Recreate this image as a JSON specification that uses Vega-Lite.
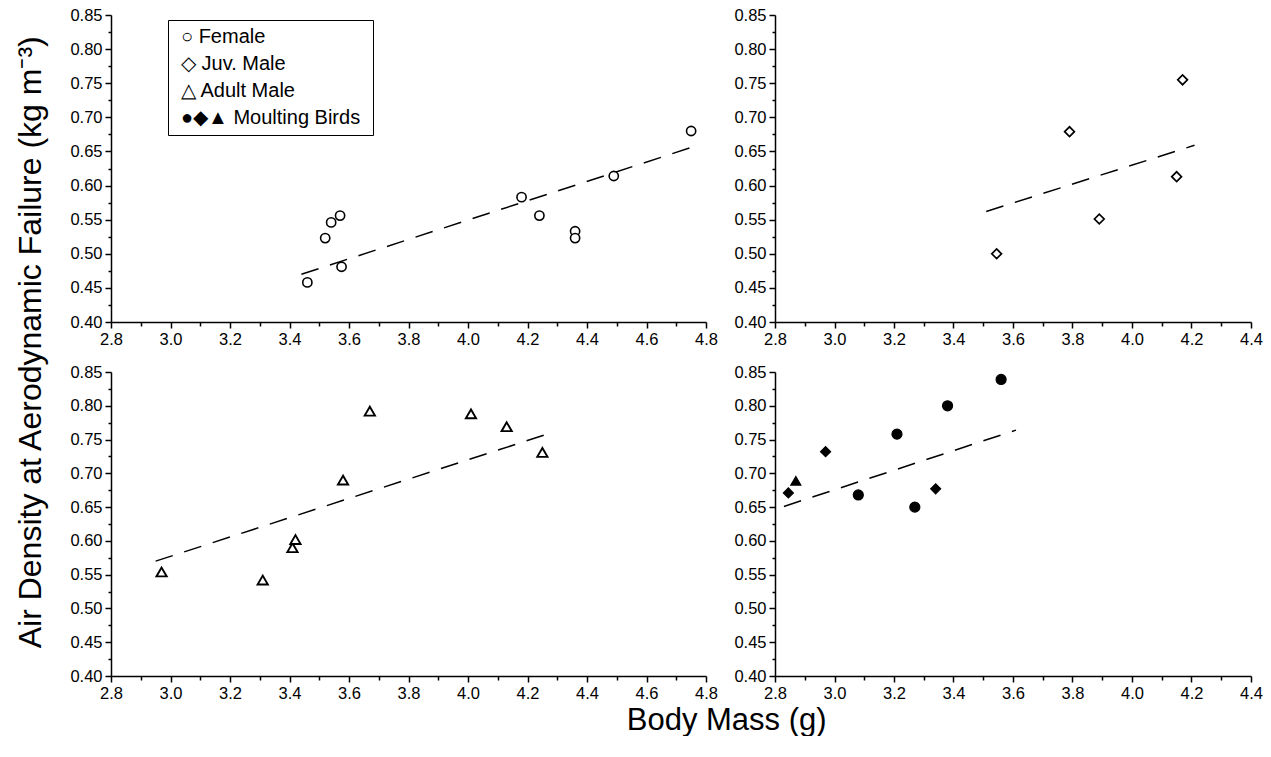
{
  "$schema": "https://vega.github.io/schema/vega-lite/v6.json",
  "padding": {"left": 14, "top": 7, "right": 0, "bottom": 0},
  "background": "white",
  "config": {
    "font": "Liberation Sans",
    "view": {"stroke": null},
    "axis": {
      "grid": false,
      "domainColor": "black",
      "domainWidth": 1.5,
      "tickColor": "black",
      "tickWidth": 1.5,
      "labelColor": "black",
      "labelFontSize": 16.5,
      "labelFont": "Liberation Sans",
      "labelPadding": 3,
      "labelOverlap": false,
      "labelFlush": false,
      "labelBound": false
    }
  },
  "datasets": {
    "points": [
      {"panel": "A", "mass": 3.46, "density": 0.458, "group": "Female", "legend": "Female"},
      {"panel": "A", "mass": 3.52, "density": 0.523, "group": "Female", "legend": "Female"},
      {"panel": "A", "mass": 3.54, "density": 0.546, "group": "Female", "legend": "Female"},
      {"panel": "A", "mass": 3.57, "density": 0.556, "group": "Female", "legend": "Female"},
      {"panel": "A", "mass": 3.575, "density": 0.481, "group": "Female", "legend": "Female"},
      {"panel": "A", "mass": 4.18, "density": 0.583, "group": "Female", "legend": "Female"},
      {"panel": "A", "mass": 4.24, "density": 0.556, "group": "Female", "legend": "Female"},
      {"panel": "A", "mass": 4.36, "density": 0.533, "group": "Female", "legend": "Female"},
      {"panel": "A", "mass": 4.36, "density": 0.523, "group": "Female", "legend": "Female"},
      {"panel": "A", "mass": 4.49, "density": 0.614, "group": "Female", "legend": "Female"},
      {"panel": "A", "mass": 4.75, "density": 0.680, "group": "Female", "legend": "Female"},
      {"panel": "B", "mass": 3.545, "density": 0.500, "group": "Juv. Male", "legend": "Juv. Male"},
      {"panel": "B", "mass": 3.79, "density": 0.679, "group": "Juv. Male", "legend": "Juv. Male"},
      {"panel": "B", "mass": 3.89, "density": 0.551, "group": "Juv. Male", "legend": "Juv. Male"},
      {"panel": "B", "mass": 4.15, "density": 0.613, "group": "Juv. Male", "legend": "Juv. Male"},
      {"panel": "B", "mass": 4.17, "density": 0.755, "group": "Juv. Male", "legend": "Juv. Male"},
      {"panel": "C", "mass": 2.97, "density": 0.554, "group": "Adult Male", "legend": "Adult Male"},
      {"panel": "C", "mass": 3.31, "density": 0.542, "group": "Adult Male", "legend": "Adult Male"},
      {"panel": "C", "mass": 3.41, "density": 0.590, "group": "Adult Male", "legend": "Adult Male"},
      {"panel": "C", "mass": 3.42, "density": 0.602, "group": "Adult Male", "legend": "Adult Male"},
      {"panel": "C", "mass": 3.58, "density": 0.690, "group": "Adult Male", "legend": "Adult Male"},
      {"panel": "C", "mass": 3.67, "density": 0.792, "group": "Adult Male", "legend": "Adult Male"},
      {"panel": "C", "mass": 4.01, "density": 0.788, "group": "Adult Male", "legend": "Adult Male"},
      {"panel": "C", "mass": 4.13, "density": 0.769, "group": "Adult Male", "legend": "Adult Male"},
      {"panel": "C", "mass": 4.25, "density": 0.731, "group": "Adult Male", "legend": "Adult Male"},
      {"panel": "D", "mass": 2.845, "density": 0.671, "group": "Juv. Male", "legend": "Moulting Birds"},
      {"panel": "D", "mass": 2.87, "density": 0.689, "group": "Adult Male", "legend": "Moulting Birds"},
      {"panel": "D", "mass": 2.97, "density": 0.732, "group": "Juv. Male", "legend": "Moulting Birds"},
      {"panel": "D", "mass": 3.08, "density": 0.668, "group": "Female", "legend": "Moulting Birds"},
      {"panel": "D", "mass": 3.21, "density": 0.758, "group": "Female", "legend": "Moulting Birds"},
      {"panel": "D", "mass": 3.27, "density": 0.650, "group": "Female", "legend": "Moulting Birds"},
      {"panel": "D", "mass": 3.34, "density": 0.677, "group": "Juv. Male", "legend": "Moulting Birds"},
      {"panel": "D", "mass": 3.38, "density": 0.800, "group": "Female", "legend": "Moulting Birds"},
      {"panel": "D", "mass": 3.56, "density": 0.839, "group": "Female", "legend": "Moulting Birds"}
    ],
    "fits": [
      {"panel": "A", "mass": 3.44, "density": 0.470},
      {"panel": "A", "mass": 4.78, "density": 0.660},
      {"panel": "B", "mass": 3.51, "density": 0.562},
      {"panel": "B", "mass": 4.21, "density": 0.659},
      {"panel": "C", "mass": 2.95, "density": 0.570},
      {"panel": "C", "mass": 4.28, "density": 0.760},
      {"panel": "D", "mass": 2.83, "density": 0.651},
      {"panel": "D", "mass": 3.61, "density": 0.764}
    ]
  },
  "title": {
    "text": "Body Mass (g)",
    "orient": "bottom",
    "anchor": "middle",
    "fontSize": 31,
    "fontWeight": "normal",
    "font": "Liberation Sans",
    "color": "black",
    "offset": 4,
    "dx": 88
  },
  "vconcat": [
    {
      "title": {
        "text": "Air Density at Aerodynamic Failure (kg m⁻³)",
        "orient": "left",
        "anchor": "middle",
        "fontSize": 32,
        "fontWeight": "normal",
        "font": "Liberation Sans",
        "color": "black",
        "offset": 22,
        "dx": 12
      },
      "columns": 2,
      "spacing": {"row": 16, "column": 15},
      "resolve": {"scale": {"x": "independent", "y": "independent", "fill": "independent", "shape": "independent"}},
      "concat": [
        {
          "width": 595,
          "height": 307,
          "encoding": {
            "x": {"field": "mass", "type": "quantitative", "scale": {"domain": [2.8, 4.8], "nice": false, "zero": false},
              "axis": {"title": null, "labelOverlap": false, "values": [2.8, 2.9, 3.0, 3.1, 3.2, 3.3, 3.4, 3.5, 3.6, 3.7, 3.8, 3.9, 4.0, 4.1, 4.2, 4.3, 4.4, 4.5, 4.6, 4.7, 4.8],
                "labelExpr": "round(datum.value*10) % 2 == 0 ? format(datum.value, '.1f') : ''",
                "tickSize": {"condition": {"test": "round(datum.value*10) % 2 == 0", "value": 6}, "value": 4}}},
            "y": {"field": "density", "type": "quantitative", "scale": {"domain": [0.4, 0.85], "nice": false, "zero": false},
              "axis": {"title": null, "labelOverlap": false, "values": [0.4, 0.425, 0.45, 0.475, 0.5, 0.525, 0.55, 0.575, 0.6, 0.625, 0.65, 0.675, 0.7, 0.725, 0.75, 0.775, 0.8, 0.825, 0.85],
                "labelExpr": "round(datum.value*1000) % 50 == 0 ? format(datum.value, '.2f') : ''",
                "tickSize": {"condition": {"test": "round(datum.value*1000) % 50 == 0", "value": 6}, "value": 3}}}
          },
          "layer": [
            {
              "data": {"name": "fits"},
              "transform": [{"filter": "datum.panel == 'A'"}],
              "mark": {"type": "line", "color": "black", "strokeWidth": 1.5, "strokeDash": [18, 12]}
            },
            {
              "data": {"name": "points"},
              "transform": [{"filter": "datum.panel == 'A'"}],
              "mark": {"type": "point", "filled": true, "size": 85, "stroke": "black", "strokeWidth": 1.6, "opacity": 1},
              "encoding": {
                "shape": {"field": "group", "type": "nominal", "scale": {"domain": ["Female", "Juv. Male", "Adult Male"], "range": ["circle", "diamond", "triangle-up"]}, "legend": null},
                "fill": {"field": "legend", "type": "nominal",
                  "scale": {"domain": ["Female", "Juv. Male", "Adult Male", "Moulting Birds"], "range": ["white", "white", "white", "black"]},
                  "legend": {
                    "orient": "none", "legendX": 57, "legendY": 5, "title": null,
                    "strokeColor": "black", "fillColor": "white", "padding": 7, "rowPadding": 7,
                    "labelFontSize": 20, "labelFont": "Liberation Sans", "labelColor": "black", "labelLimit": 400,
                    "symbolOpacity": 0, "symbolSize": 0, "symbolStrokeWidth": 0, "labelOffset": -14,
                    "labelExpr": "datum.label == 'Female' ? '○  Female' : datum.label == 'Juv. Male' ? '◇  Juv. Male' : datum.label == 'Adult Male' ? '△  Adult Male' : '●◆▲  Moulting Birds'"
                  }}
              }
            }
          ]
        },
        {
          "width": 476,
          "height": 307,
          "encoding": {
            "x": {"field": "mass", "type": "quantitative", "scale": {"domain": [2.8, 4.4], "nice": false, "zero": false},
              "axis": {"title": null, "labelOverlap": false, "values": [2.8, 2.9, 3.0, 3.1, 3.2, 3.3, 3.4, 3.5, 3.6, 3.7, 3.8, 3.9, 4.0, 4.1, 4.2, 4.3, 4.4],
                "labelExpr": "round(datum.value*10) % 2 == 0 ? format(datum.value, '.1f') : ''",
                "tickSize": {"condition": {"test": "round(datum.value*10) % 2 == 0", "value": 6}, "value": 4}}},
            "y": {"field": "density", "type": "quantitative", "scale": {"domain": [0.4, 0.85], "nice": false, "zero": false},
              "axis": {"title": null, "labelOverlap": false, "values": [0.4, 0.425, 0.45, 0.475, 0.5, 0.525, 0.55, 0.575, 0.6, 0.625, 0.65, 0.675, 0.7, 0.725, 0.75, 0.775, 0.8, 0.825, 0.85],
                "labelExpr": "round(datum.value*1000) % 50 == 0 ? format(datum.value, '.2f') : ''",
                "tickSize": {"condition": {"test": "round(datum.value*1000) % 50 == 0", "value": 6}, "value": 3}}}
          },
          "layer": [
            {
              "data": {"name": "fits"},
              "transform": [{"filter": "datum.panel == 'B'"}],
              "mark": {"type": "line", "color": "black", "strokeWidth": 1.5, "strokeDash": [18, 12]}
            },
            {
              "data": {"name": "points"},
              "transform": [{"filter": "datum.panel == 'B'"}],
              "mark": {"type": "point", "filled": true, "size": 95, "stroke": "black", "strokeWidth": 1.7, "opacity": 1},
              "encoding": {
                "shape": {"field": "group", "type": "nominal", "scale": {"domain": ["Female", "Juv. Male", "Adult Male"], "range": ["circle", "diamond", "triangle-up"]}, "legend": null},
                "fill": {"field": "legend", "type": "nominal", "scale": {"domain": ["Female", "Juv. Male", "Adult Male", "Moulting Birds"], "range": ["white", "white", "white", "black"]}, "legend": null}
              }
            }
          ]
        },
        {
          "width": 595,
          "height": 304,
          "encoding": {
            "x": {"field": "mass", "type": "quantitative", "scale": {"domain": [2.8, 4.8], "nice": false, "zero": false},
              "axis": {"title": null, "labelOverlap": false, "values": [2.8, 2.9, 3.0, 3.1, 3.2, 3.3, 3.4, 3.5, 3.6, 3.7, 3.8, 3.9, 4.0, 4.1, 4.2, 4.3, 4.4, 4.5, 4.6, 4.7, 4.8],
                "labelExpr": "round(datum.value*10) % 2 == 0 ? format(datum.value, '.1f') : ''",
                "tickSize": {"condition": {"test": "round(datum.value*10) % 2 == 0", "value": 6}, "value": 4}}},
            "y": {"field": "density", "type": "quantitative", "scale": {"domain": [0.4, 0.85], "nice": false, "zero": false},
              "axis": {"title": null, "labelOverlap": false, "values": [0.4, 0.425, 0.45, 0.475, 0.5, 0.525, 0.55, 0.575, 0.6, 0.625, 0.65, 0.675, 0.7, 0.725, 0.75, 0.775, 0.8, 0.825, 0.85],
                "labelExpr": "round(datum.value*1000) % 50 == 0 ? format(datum.value, '.2f') : ''",
                "tickSize": {"condition": {"test": "round(datum.value*1000) % 50 == 0", "value": 6}, "value": 3}}}
          },
          "layer": [
            {
              "data": {"name": "fits"},
              "transform": [{"filter": "datum.panel == 'C'"}],
              "mark": {"type": "line", "color": "black", "strokeWidth": 1.5, "strokeDash": [18, 12]}
            },
            {
              "data": {"name": "points"},
              "transform": [{"filter": "datum.panel == 'C'"}],
              "mark": {"type": "point", "filled": true, "size": 105, "stroke": "black", "strokeWidth": 1.9, "opacity": 1},
              "encoding": {
                "shape": {"field": "group", "type": "nominal", "scale": {"domain": ["Female", "Juv. Male", "Adult Male"], "range": ["circle", "diamond", "triangle-up"]}, "legend": null},
                "fill": {"field": "legend", "type": "nominal", "scale": {"domain": ["Female", "Juv. Male", "Adult Male", "Moulting Birds"], "range": ["white", "white", "white", "black"]}, "legend": null}
              }
            }
          ]
        },
        {
          "width": 476,
          "height": 304,
          "encoding": {
            "x": {"field": "mass", "type": "quantitative", "scale": {"domain": [2.8, 4.4], "nice": false, "zero": false},
              "axis": {"title": null, "labelOverlap": false, "values": [2.8, 2.9, 3.0, 3.1, 3.2, 3.3, 3.4, 3.5, 3.6, 3.7, 3.8, 3.9, 4.0, 4.1, 4.2, 4.3, 4.4],
                "labelExpr": "round(datum.value*10) % 2 == 0 ? format(datum.value, '.1f') : ''",
                "tickSize": {"condition": {"test": "round(datum.value*10) % 2 == 0", "value": 6}, "value": 4}}},
            "y": {"field": "density", "type": "quantitative", "scale": {"domain": [0.4, 0.85], "nice": false, "zero": false},
              "axis": {"title": null, "labelOverlap": false, "values": [0.4, 0.425, 0.45, 0.475, 0.5, 0.525, 0.55, 0.575, 0.6, 0.625, 0.65, 0.675, 0.7, 0.725, 0.75, 0.775, 0.8, 0.825, 0.85],
                "labelExpr": "round(datum.value*1000) % 50 == 0 ? format(datum.value, '.2f') : ''",
                "tickSize": {"condition": {"test": "round(datum.value*1000) % 50 == 0", "value": 6}, "value": 3}}}
          },
          "layer": [
            {
              "data": {"name": "fits"},
              "transform": [{"filter": "datum.panel == 'D'"}],
              "mark": {"type": "line", "color": "black", "strokeWidth": 1.5, "strokeDash": [18, 12]}
            },
            {
              "data": {"name": "points"},
              "transform": [{"filter": "datum.panel == 'D'"}],
              "mark": {"type": "point", "filled": true, "size": 100, "stroke": "black", "strokeWidth": 1.2, "opacity": 1},
              "encoding": {
                "shape": {"field": "group", "type": "nominal", "scale": {"domain": ["Female", "Juv. Male", "Adult Male"], "range": ["circle", "diamond", "triangle-up"]}, "legend": null},
                "fill": {"field": "legend", "type": "nominal", "scale": {"domain": ["Female", "Juv. Male", "Adult Male", "Moulting Birds"], "range": ["white", "white", "white", "black"]}, "legend": null}
              }
            }
          ]
        }
      ]
    }
  ]
}
